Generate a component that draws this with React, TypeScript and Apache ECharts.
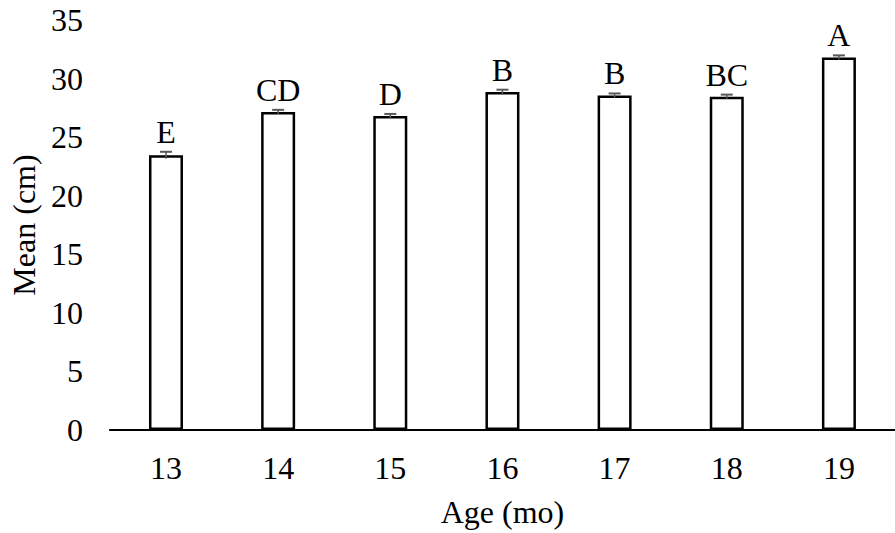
import React, { useEffect, useRef } from "react";
import * as echarts from "echarts";

const categories = ["13", "14", "15", "16", "17", "18", "19"];
const means = [23.45, 27.15, 26.8, 28.85, 28.55, 28.45, 31.8];
const errors = [0.3, 0.18, 0.18, 0.2, 0.18, 0.18, 0.18];
const letters = ["E", "CD", "D", "B", "B", "BC", "A"];
const yTicks = { min: 0, max: 35, interval: 5 };

const FONT = "'Liberation Serif', 'Times New Roman', serif";
const FS = 32;

export default function App() {
  const ref = useRef<HTMLDivElement>(null);
  useEffect(() => {
    if (!ref.current) return;
    const chart = echarts.init(ref.current, undefined, { renderer: "svg" });
    chart.setOption({
      animation: false,
      backgroundColor: "#ffffff",
      grid: { left: 109, right: -10, top: 20, bottom: 100 },
      xAxis: {
        type: "category",
        data: categories,
        axisLine: { show: true, lineStyle: { color: "#000", width: 2 } },
        axisTick: { show: false },
        axisLabel: { color: "#000", fontFamily: FONT, fontSize: FS, margin: 22 },
        name: "Age (mo)",
        nameLocation: "middle",
        nameGap: 66,
        nameTextStyle: { color: "#000", fontFamily: FONT, fontSize: FS },
      },
      yAxis: {
        type: "value",
        min: yTicks.min,
        max: yTicks.max,
        interval: yTicks.interval,
        axisLine: { show: false },
        axisTick: { show: false },
        splitLine: { show: false },
        axisLabel: { color: "#000", fontFamily: FONT, fontSize: FS, margin: 27 },
        name: "Mean (cm)",
        nameLocation: "middle",
        nameGap: 64,
        nameTextStyle: { color: "#000", fontFamily: FONT, fontSize: FS },
      },
      series: [
        {
          type: "bar",
          data: means,
          barWidth: 34,
          itemStyle: { color: "#ffffff", borderColor: "#000", borderWidth: 2.5 },
          z: 2,
        },
        {
          type: "custom",
          z: 3,
          data: means.map((m, i) => [i, m, errors[i]]),
          renderItem: (params: any, api: any) => {
            const i = api.value(0);
            const m = api.value(1);
            const e = api.value(2);
            const lo = api.coord([i, m - e]);
            const hi = api.coord([i, m + e]);
            const x = hi[0];
            const half = 6;
            return {
              type: "group",
              children: [
                {
                  type: "line",
                  shape: { x1: x, y1: lo[1], x2: x, y2: hi[1] },
                  style: { stroke: "#595959", lineWidth: 1.5 },
                },
                {
                  type: "line",
                  shape: { x1: x - half, y1: hi[1], x2: x + half, y2: hi[1] },
                  style: { stroke: "#595959", lineWidth: 2 },
                },
                {
                  type: "text",
                  x: x,
                  y: hi[1] - 4,
                  style: {
                    text: letters[params.dataIndex],
                    fill: "#000",
                    font: `${FS}px ${FONT}`,
                    align: "center",
                    verticalAlign: "bottom",
                  },
                },
              ],
            };
          },
        },
      ],
    });
    return () => chart.dispose();
  }, []);
  return (
    <div
      ref={ref}
      style={{ position: "fixed", left: 0, top: 0, width: 895, height: 533 }}
    />
  );
}
